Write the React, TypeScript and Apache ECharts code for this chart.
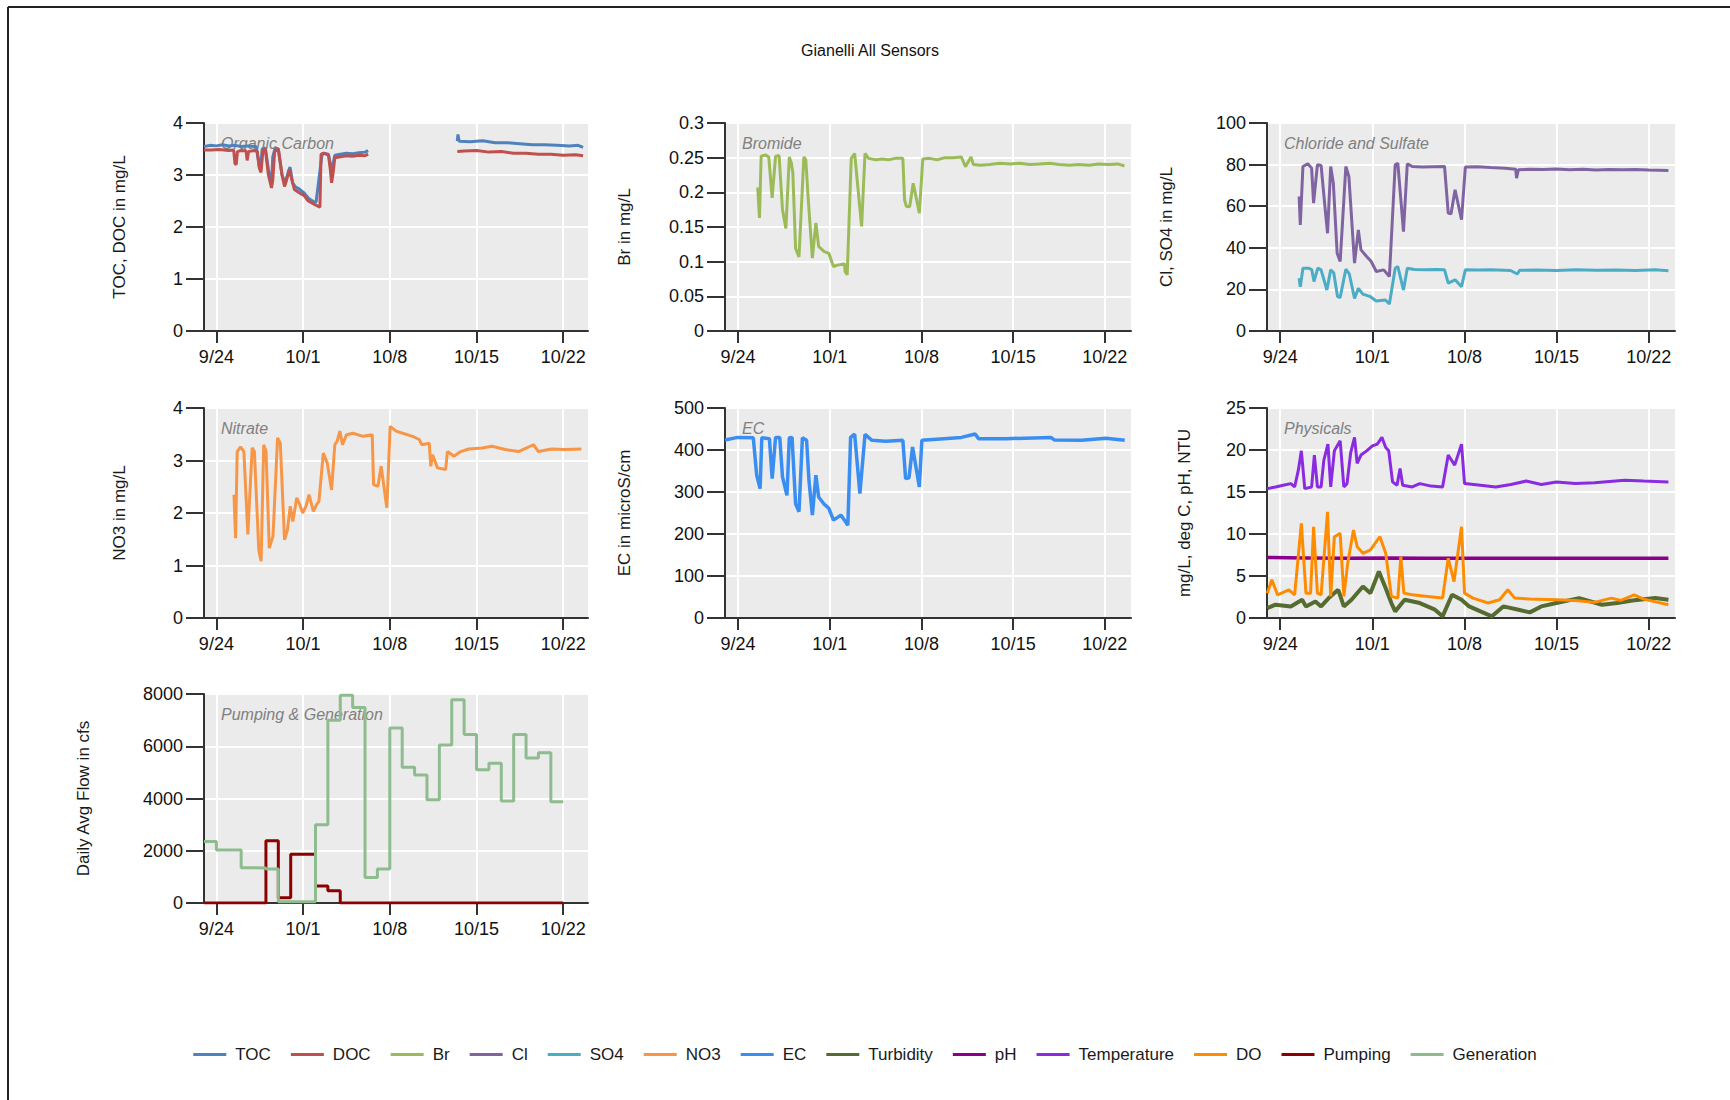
import React, { useEffect, useRef } from 'react';
import * as echarts from 'echarts';

type Pt = [number, number | null];

// x values are days after 9/23 00:00
const TICK_DAYS = [1, 8, 15, 22, 29];
const TICK_LABELS = ['9/24', '10/1', '10/8', '10/15', '10/22'];

const TOC: Pt[] = [
  [0, 3.55], [0.5, 3.57], [1, 3.56], [1.5, 3.58], [2, 3.56], [2.5, 3.57], [3, 3.55], [3.5, 3.56], [4.2, 3.55],
  [4.45, 3.2], [4.55, 3.1], [4.7, 3.5], [4.95, 3.52], [5.2, 3.1], [5.45, 2.82], [5.55, 3.35], [5.75, 3.52],
  [6.0, 3.5], [6.3, 3.0], [6.55, 2.85], [6.85, 3.1], [6.95, 3.15], [7.15, 2.85], [7.35, 2.78], [7.75, 2.72],
  [8.1, 2.65], [8.45, 2.55], [8.9, 2.48], [9.05, 2.48], [9.5, 3.35], [9.6, 3.42], [10.05, 3.4], [10.2, 3.2],
  [10.3, 2.95], [10.4, 3.2], [10.56, 3.38], [11, 3.4], [11.5, 3.42], [12, 3.41], [12.5, 3.43], [13, 3.44],
  [13.25, 3.47], [16, null], [20.45, 3.65], [20.5, 3.78], [20.6, 3.65], [21.5, 3.64], [22.5, 3.66],
  [23.5, 3.62], [24.5, 3.62], [25.5, 3.6], [26.5, 3.58], [27.5, 3.58], [28.5, 3.57], [29.5, 3.56],
  [30.2, 3.57], [30.6, 3.53],
];

const DOC: Pt[] = [
  [0, 3.48], [0.6, 3.48], [1.2, 3.49], [2.0, 3.47], [2.4, 3.48], [2.5, 3.22], [2.6, 3.2], [2.7, 3.45],
  [3.0, 3.47], [3.4, 3.46], [3.48, 3.28], [3.6, 3.45], [4.0, 3.47], [4.3, 3.46], [4.45, 3.15], [4.6, 3.05],
  [4.75, 3.45], [4.95, 3.5], [5.2, 3.0], [5.45, 2.75], [5.55, 2.9], [5.7, 3.45], [6.0, 3.5], [6.3, 3.0],
  [6.5, 2.78], [6.6, 2.85], [6.9, 3.1], [7.05, 2.95], [7.3, 2.72], [7.75, 2.65], [8.1, 2.6], [8.42, 2.5],
  [8.96, 2.43], [9.36, 2.38], [9.45, 3.4], [9.7, 3.42], [10.05, 3.38], [10.2, 3.1], [10.3, 2.85], [10.4, 3.0],
  [10.56, 3.33], [11, 3.35], [11.5, 3.37], [12, 3.36], [12.5, 3.38], [13, 3.37], [13.25, 3.4], [16, null],
  [20.45, 3.45], [21, 3.46], [22, 3.47], [23, 3.44], [24, 3.45], [25, 3.42], [26, 3.42], [27, 3.4],
  [28, 3.4], [29, 3.38], [30, 3.39], [30.6, 3.37],
];

const BR: Pt[] = [
  [2.5, 0.207], [2.63, 0.163], [2.76, 0.252], [3.08, 0.254], [3.34, 0.251], [3.6, 0.192], [3.86, 0.252],
  [4.13, 0.253], [4.39, 0.175], [4.65, 0.148], [4.91, 0.251], [5.07, 0.242], [5.18, 0.228], [5.39, 0.119],
  [5.65, 0.107], [6.02, 0.251], [6.17, 0.247], [6.36, 0.189], [6.67, 0.105], [6.94, 0.156], [7.15, 0.122],
  [7.54, 0.115], [7.93, 0.112], [8.28, 0.093], [8.59, 0.095], [9.12, 0.097], [9.17, 0.086], [9.33, 0.081],
  [9.64, 0.249], [9.9, 0.256], [10.43, 0.151], [10.69, 0.256], [10.96, 0.249], [11.5, 0.247], [12, 0.248],
  [12.5, 0.247], [13, 0.249], [13.58, 0.249], [13.71, 0.189], [13.84, 0.18], [14.1, 0.179], [14.37, 0.213],
  [14.84, 0.17], [15.1, 0.248], [15.6, 0.249], [16.2, 0.247], [16.8, 0.25], [17.4, 0.25], [18.05, 0.251],
  [18.36, 0.237], [18.78, 0.251], [18.97, 0.24], [19.5, 0.239], [20.2, 0.24], [21, 0.242], [21.8, 0.241],
  [22.5, 0.242], [23.3, 0.24], [24, 0.241], [24.8, 0.242], [25.5, 0.24], [26.3, 0.239], [27, 0.24],
  [27.8, 0.239], [28.5, 0.241], [29.3, 0.24], [30, 0.241], [30.5, 0.238],
];

const CL: Pt[] = [
  [2.44, 64.7], [2.53, 51], [2.73, 79.1], [3.1, 80.4], [3.39, 78.3], [3.54, 61.5], [3.83, 79.9], [4.11, 79.6],
  [4.4, 59.9], [4.6, 47], [4.84, 79.1], [5.04, 71.1], [5.33, 37.4], [5.56, 33.4], [5.99, 79.1], [6.22, 74.3],
  [6.65, 32.6], [6.94, 48.6], [7.14, 39], [7.57, 35.8], [7.92, 33.4], [8.3, 28.6], [8.87, 29.4], [9.3, 26.2],
  [9.74, 79.9], [9.94, 80.7], [10.37, 47.8], [10.66, 80.4], [11.03, 79.1], [11.8, 78.8], [12.6, 79.0],
  [13.49, 79.1], [13.77, 56.7], [13.98, 56.3], [14.29, 67.9], [14.78, 53.5], [15.07, 78.8], [16, 79],
  [17, 78.6], [18.1, 78.3], [18.9, 77.8], [18.96, 73.5], [19.1, 77.5], [20, 77.8], [21, 77.6], [22, 77.9],
  [23, 77.5], [24, 77.8], [25, 77.4], [26, 77.7], [27, 77.5], [28, 77.6], [29, 77.4], [30.5, 77.2],
];

const SO4: Pt[] = [
  [2.44, 25.4], [2.53, 21.3], [2.73, 30.2], [3.15, 30.2], [3.4, 29.5], [3.57, 23.8], [3.86, 30.2], [4.11, 29.4],
  [4.55, 19.7], [4.84, 29.4], [5.07, 28], [5.36, 16.5], [5.56, 16.1], [5.99, 29.7], [6.25, 27.5], [6.65, 15.7],
  [6.94, 20.5], [7.28, 17.7], [7.86, 16.5], [8.3, 14.4], [9.0, 14.9], [9.3, 13], [9.74, 30.2], [9.94, 31],
  [10.37, 19.7], [10.66, 30.2], [11.2, 29.6], [12, 29.4], [12.8, 29.6], [13.49, 29.4], [13.77, 23],
  [14.29, 24.6], [14.78, 21.3], [15.07, 29.4], [16, 29.3], [17, 29.5], [18.5, 29.1], [19.02, 27.4],
  [19.2, 29.2], [20.5, 29.3], [22, 29.1], [23.5, 29.4], [25, 29.2], [26.5, 29.3], [28, 29.1], [29.5, 29.4],
  [30.5, 29.0],
];

const NO3: Pt[] = [
  [2.42, 2.35], [2.55, 1.52], [2.68, 3.17], [2.95, 3.26], [3.22, 3.17], [3.54, 1.59], [3.89, 3.24], [4.07, 3.17],
  [4.42, 1.3], [4.61, 1.08], [4.82, 3.3], [5.01, 3.17], [5.27, 1.33], [5.57, 1.56], [5.94, 3.43], [6.16, 3.33],
  [6.5, 1.49], [6.74, 1.68], [6.96, 2.13], [7.17, 1.84], [7.49, 2.29], [7.68, 2.19], [7.97, 2.0], [8.24, 2.13],
  [8.48, 2.35], [8.83, 2.03], [9.09, 2.16], [9.28, 2.22], [9.63, 3.14], [9.95, 2.95], [10.3, 2.44], [10.56, 3.3],
  [10.75, 3.37], [10.97, 3.56], [11.18, 3.3], [11.5, 3.49], [12.03, 3.52], [12.84, 3.46], [13.58, 3.49],
  [13.69, 2.54], [14.04, 2.51], [14.3, 2.89], [14.76, 2.1], [15.03, 3.65], [15.51, 3.56], [16.04, 3.52],
  [16.84, 3.46], [17.38, 3.4], [17.59, 3.3], [18.18, 3.33], [18.31, 2.89], [18.45, 3.11], [18.85, 2.86],
  [19.51, 2.83], [19.65, 3.17], [20.18, 3.08], [20.72, 3.17], [21.38, 3.22], [22.45, 3.24], [23.25, 3.27],
  [24.32, 3.21], [25.39, 3.17], [26.6, 3.3], [27.0, 3.17], [28.06, 3.22], [29.13, 3.21], [30.47, 3.22],
];

const EC: Pt[] = [
  [0, 424], [0.97, 430], [2.16, 429], [2.42, 340], [2.68, 308], [2.81, 429], [3.39, 427], [3.6, 332],
  [3.86, 430], [4.18, 430], [4.39, 336], [4.73, 292], [4.91, 429], [5.12, 430], [5.39, 272], [5.65, 253],
  [5.91, 429], [6.23, 423], [6.41, 328], [6.67, 245], [6.94, 340], [7.15, 288], [7.54, 272], [7.93, 261],
  [8.28, 233], [8.85, 245], [9.12, 233], [9.38, 221], [9.59, 430], [9.9, 438], [10.3, 296], [10.69, 437],
  [11.22, 423], [12.27, 421], [13.58, 423], [13.79, 332], [14.05, 334], [14.32, 407], [14.84, 312],
  [15.03, 423], [16.73, 427], [18.05, 430], [19.1, 438], [19.36, 427], [21.46, 427], [24.88, 430],
  [25.14, 424], [27.24, 423], [29.08, 428], [30.52, 423],
];

const TURBIDITY: Pt[] = [
  [0.02, 1.18], [0.65, 1.58], [1.81, 1.38], [2.67, 2.17], [2.96, 1.38], [3.68, 1.97], [4.11, 1.38],
  [4.69, 2.37], [5.41, 3.36], [5.84, 1.38], [6.42, 2.17], [7.29, 3.75], [7.86, 2.96], [8.5, 5.53],
  [9.02, 3.55], [9.45, 1.78], [9.74, 0.79], [10.46, 2.17], [11.61, 1.78], [12.76, 0.99], [13.34, 0.2],
  [14.06, 2.76], [14.78, 2.17], [15.36, 1.38], [16.22, 0.79], [17.09, 0.2], [17.95, 1.38], [19.11, 0.99],
  [19.97, 0.67], [20.84, 1.38], [21.99, 1.78], [23.72, 2.37], [25.45, 1.58], [26.61, 1.78], [27.76, 2.09],
  [29.49, 2.37], [30.5, 2.17],
];

const PH: Pt[] = [
  [0.02, 7.2], [3, 7.15], [6, 7.1], [9, 7.15], [12, 7.1], [15, 7.12], [20, 7.1], [25, 7.1], [30.5, 7.1],
];

const TEMPERATURE: Pt[] = [
  [0.02, 15.4], [0.65, 15.6], [1.23, 15.8], [1.81, 16.0], [2.1, 15.6], [2.38, 17.6], [2.61, 19.9], [2.87, 15.4],
  [3.39, 15.6], [3.6, 19.4], [3.83, 15.6], [4.11, 15.6], [4.32, 18.8], [4.63, 20.7], [4.84, 15.6], [5.12, 19.9],
  [5.56, 21.1], [5.84, 15.6], [6.08, 16.0], [6.36, 19.7], [6.65, 21.5], [6.85, 18.4], [7.14, 19.4],
  [7.57, 19.9], [8.01, 20.5], [8.38, 20.7], [8.73, 21.5], [9.02, 20.3], [9.25, 19.9], [9.54, 16.2],
  [9.88, 15.8], [10.11, 17.8], [10.31, 15.8], [11.03, 15.6], [11.61, 16.0], [12.48, 15.7], [13.34, 15.6],
  [13.77, 19.4], [14.26, 18.2], [14.78, 20.7], [15.01, 16.0], [16.22, 15.8], [17.38, 15.6], [18.53, 15.9],
  [19.69, 16.3], [20.84, 15.9], [21.99, 16.2], [23.43, 16.0], [24.88, 16.1], [27.18, 16.4], [28.62, 16.3],
  [30.5, 16.2],
];

const DO: Pt[] = [
  [0.02, 2.96], [0.37, 4.54], [0.8, 2.76], [1.66, 3.36], [2.1, 2.76], [2.61, 11.26], [2.96, 2.96], [3.31, 2.96],
  [3.54, 10.86], [3.83, 2.96], [4.11, 2.76], [4.6, 12.64], [4.84, 2.57], [5.12, 9.68], [5.56, 10.07],
  [5.84, 2.57], [6.13, 6.5], [6.57, 10.47], [6.85, 8.49], [7.29, 7.7], [7.86, 8.1], [8.58, 9.68], [9.02, 7.7],
  [9.45, 2.57], [9.94, 2.37], [10.17, 7.31], [10.4, 2.96], [11.03, 2.76], [12.19, 2.57], [13.34, 2.37],
  [13.77, 7.11], [14.21, 4.34], [14.78, 10.86], [15.01, 2.96], [15.65, 2.37], [16.8, 1.78], [17.67, 2.17],
  [18.3, 3.36], [18.82, 2.37], [19.97, 2.25], [21.99, 2.17], [23.43, 2.09], [24.88, 1.86], [26.17, 2.37],
  [26.89, 2.09], [27.9, 2.76], [28.62, 2.25], [30.5, 1.58],
];

// daily averages, one value per day starting 9/23
const PUMPING_DAILY = [0, 0, 0, 0, 0, 2380, 200, 1870, 1870, 650, 470, 0, 0, 0, 0, 0, 0, 0, 0, 0, 0, 0, 0, 0, 0, 0, 0, 0, 0];
const GENERATION_DAILY = [2350, 2030, 2030, 1350, 1340, 1300, 50, 50, 50, 3000, 7000, 7950, 7480, 980, 1300, 6700, 5200, 4900, 3950, 6050, 7780, 6450, 5100, 5350, 3900, 6450, 5550, 5750, 3880];

const daily = (vals: number[]): Pt[] => {
  const pts: Pt[] = vals.map((v, i) => [i, v] as Pt);
  pts.push([vals.length, vals[vals.length - 1]]);
  return pts;
};

const FONT = '"Liberation Sans", Arial, sans-serif';

const GRIDS = [
  { left: 204, top: 123, width: 384, height: 208 },
  { left: 725, top: 123, width: 406, height: 208 },
  { left: 1267, top: 123, width: 408, height: 208 },
  { left: 204, top: 408, width: 384, height: 210 },
  { left: 725, top: 408, width: 406, height: 210 },
  { left: 1267, top: 408, width: 408, height: 210 },
  { left: 204, top: 694, width: 384, height: 209 },
];

const PANELS = [
  { max: 4, interval: 1, name: 'TOC, DOC in mg/L', gap: 76, label: 'Organic Carbon' },
  { max: 0.3, interval: 0.05, name: 'Br in mg/L', gap: 92, label: 'Bromide' },
  { max: 100, interval: 20, name: 'Cl, SO4 in mg/L', gap: 92, label: 'Chloride and Sulfate' },
  { max: 4, interval: 1, name: 'NO3 in mg/L', gap: 76, label: 'Nitrate' },
  { max: 500, interval: 100, name: 'EC in microS/cm', gap: 92, label: 'EC' },
  { max: 25, interval: 5, name: 'mg/L, deg C, pH, NTU', gap: 74, label: 'Physicals' },
  { max: 8000, interval: 2000, name: 'Daily Avg Flow in cfs', gap: 112, label: 'Pumping & Generation' },
];

const SERIES = [
  { name: 'TOC', data: TOC, color: '#4F81BD', grid: 0, w: 3 },
  { name: 'DOC', data: DOC, color: '#C0504D', grid: 0, w: 3 },
  { name: 'Br', data: BR, color: '#9BBB59', grid: 1, w: 3 },
  { name: 'Cl', data: CL, color: '#8064A2', grid: 2, w: 3 },
  { name: 'SO4', data: SO4, color: '#4BACC6', grid: 2, w: 3 },
  { name: 'NO3', data: NO3, color: '#F79646', grid: 3, w: 3 },
  { name: 'EC', data: EC, color: '#3A8EF2', grid: 4, w: 3.5 },
  { name: 'Turbidity', data: TURBIDITY, color: '#556B2F', grid: 5, w: 4 },
  { name: 'pH', data: PH, color: '#8B008B', grid: 5, w: 3.5 },
  { name: 'Temperature', data: TEMPERATURE, color: '#8A2BE2', grid: 5, w: 3 },
  { name: 'DO', data: DO, color: '#FF8C00', grid: 5, w: 3 },
  { name: 'Pumping', data: daily(PUMPING_DAILY), color: '#8B0000', grid: 6, w: 3, step: true },
  { name: 'Generation', data: daily(GENERATION_DAILY), color: '#8FBC8F', grid: 6, w: 3, step: true },
];

export default function App() {
  const ref = useRef<HTMLDivElement>(null);
  useEffect(() => {
    if (!ref.current) return;
    const chart = echarts.init(ref.current, undefined, { renderer: 'svg' });
    const axisColor = '#333';
    const option: any = {
      animation: false,
      backgroundColor: '#ffffff',
      grid: GRIDS.map((g) => ({ ...g, show: true, backgroundColor: '#EBEBEB', borderWidth: 0, containLabel: false })),
      xAxis: GRIDS.map((_, i) => ({
        type: 'value',
        gridIndex: i,
        min: 0,
        max: 31,
        axisLine: { show: true, onZero: false, lineStyle: { color: axisColor, width: 2 } },
        axisTick: { show: true, length: 12, customValues: TICK_DAYS, lineStyle: { color: axisColor, width: 2 } },
        axisLabel: {
          customValues: TICK_DAYS,
          formatter: (v: number) => TICK_LABELS[TICK_DAYS.indexOf(Math.round(v))] ?? '',
          fontSize: 18,
          color: '#111',
          margin: 17,
          fontFamily: FONT,
        },
        splitLine: { show: true, lineStyle: { color: '#ffffff', width: 2 } },
      })),
      yAxis: PANELS.map((p, i) => ({
        type: 'value',
        gridIndex: i,
        min: 0,
        max: p.max,
        interval: p.interval,
        name: p.name,
        nameLocation: 'middle',
        nameGap: p.gap,
        nameTextStyle: { fontSize: 17, color: '#1a1a1a', fontFamily: FONT },
        axisLine: { show: true, lineStyle: { color: axisColor, width: 2 } },
        axisTick: { show: true, length: 18, lineStyle: { color: axisColor, width: 2 } },
        axisLabel: {
          fontSize: 18, color: '#111', margin: 21, fontFamily: FONT,
          formatter: (v: number) => String(Math.round(v * 1000) / 1000),
        },
        splitLine: { show: true, lineStyle: { color: '#ffffff', width: 2 } },
      })),
      legend: {
        left: 'center',
        top: 1041,
        icon: 'rect',
        itemWidth: 33,
        itemHeight: 3,
        itemGap: 20,
        data: SERIES.map((s) => s.name),
        textStyle: { fontSize: 17, color: '#1a1a1a', fontFamily: FONT, padding: [0, 0, 0, 4] },
      },
      series: SERIES.map((s) => ({
        name: s.name,
        type: 'line',
        xAxisIndex: s.grid,
        yAxisIndex: s.grid,
        data: s.data,
        showSymbol: false,
        symbol: 'none',
        step: s.step ? 'end' : false,
        color: s.color,
        lineStyle: { color: s.color, width: s.w },
        connectNulls: false,
      })),
      graphic: [
        { type: 'line', shape: { x1: 8, y1: 7, x2: 1730, y2: 7 }, style: { stroke: '#222', lineWidth: 2 } },
        { type: 'line', shape: { x1: 8, y1: 7, x2: 8, y2: 1100 }, style: { stroke: '#222', lineWidth: 2 } },
        {
          type: 'text', x: 870, y: 50,
          style: { text: 'Gianelli All Sensors', fontSize: 16, fill: '#111', fontFamily: FONT, align: 'center', verticalAlign: 'middle' },
        },
        ...PANELS.map((p, i) => ({
          type: 'text',
          z: 1,
          x: GRIDS[i].left + 17,
          y: GRIDS[i].top + 20,
          style: { text: p.label, fontSize: 16, fontStyle: 'italic', fill: '#808080', fontFamily: FONT, verticalAlign: 'middle' },
        })),
      ],
    };
    chart.setOption(option);
    return () => chart.dispose();
  }, []);
  return (
    <div style={{ position: 'absolute', left: 0, top: 0, width: 1730, height: 1100 }}>
      <div ref={ref} style={{ width: 1730, height: 1100 }} />
    </div>
  );
}
